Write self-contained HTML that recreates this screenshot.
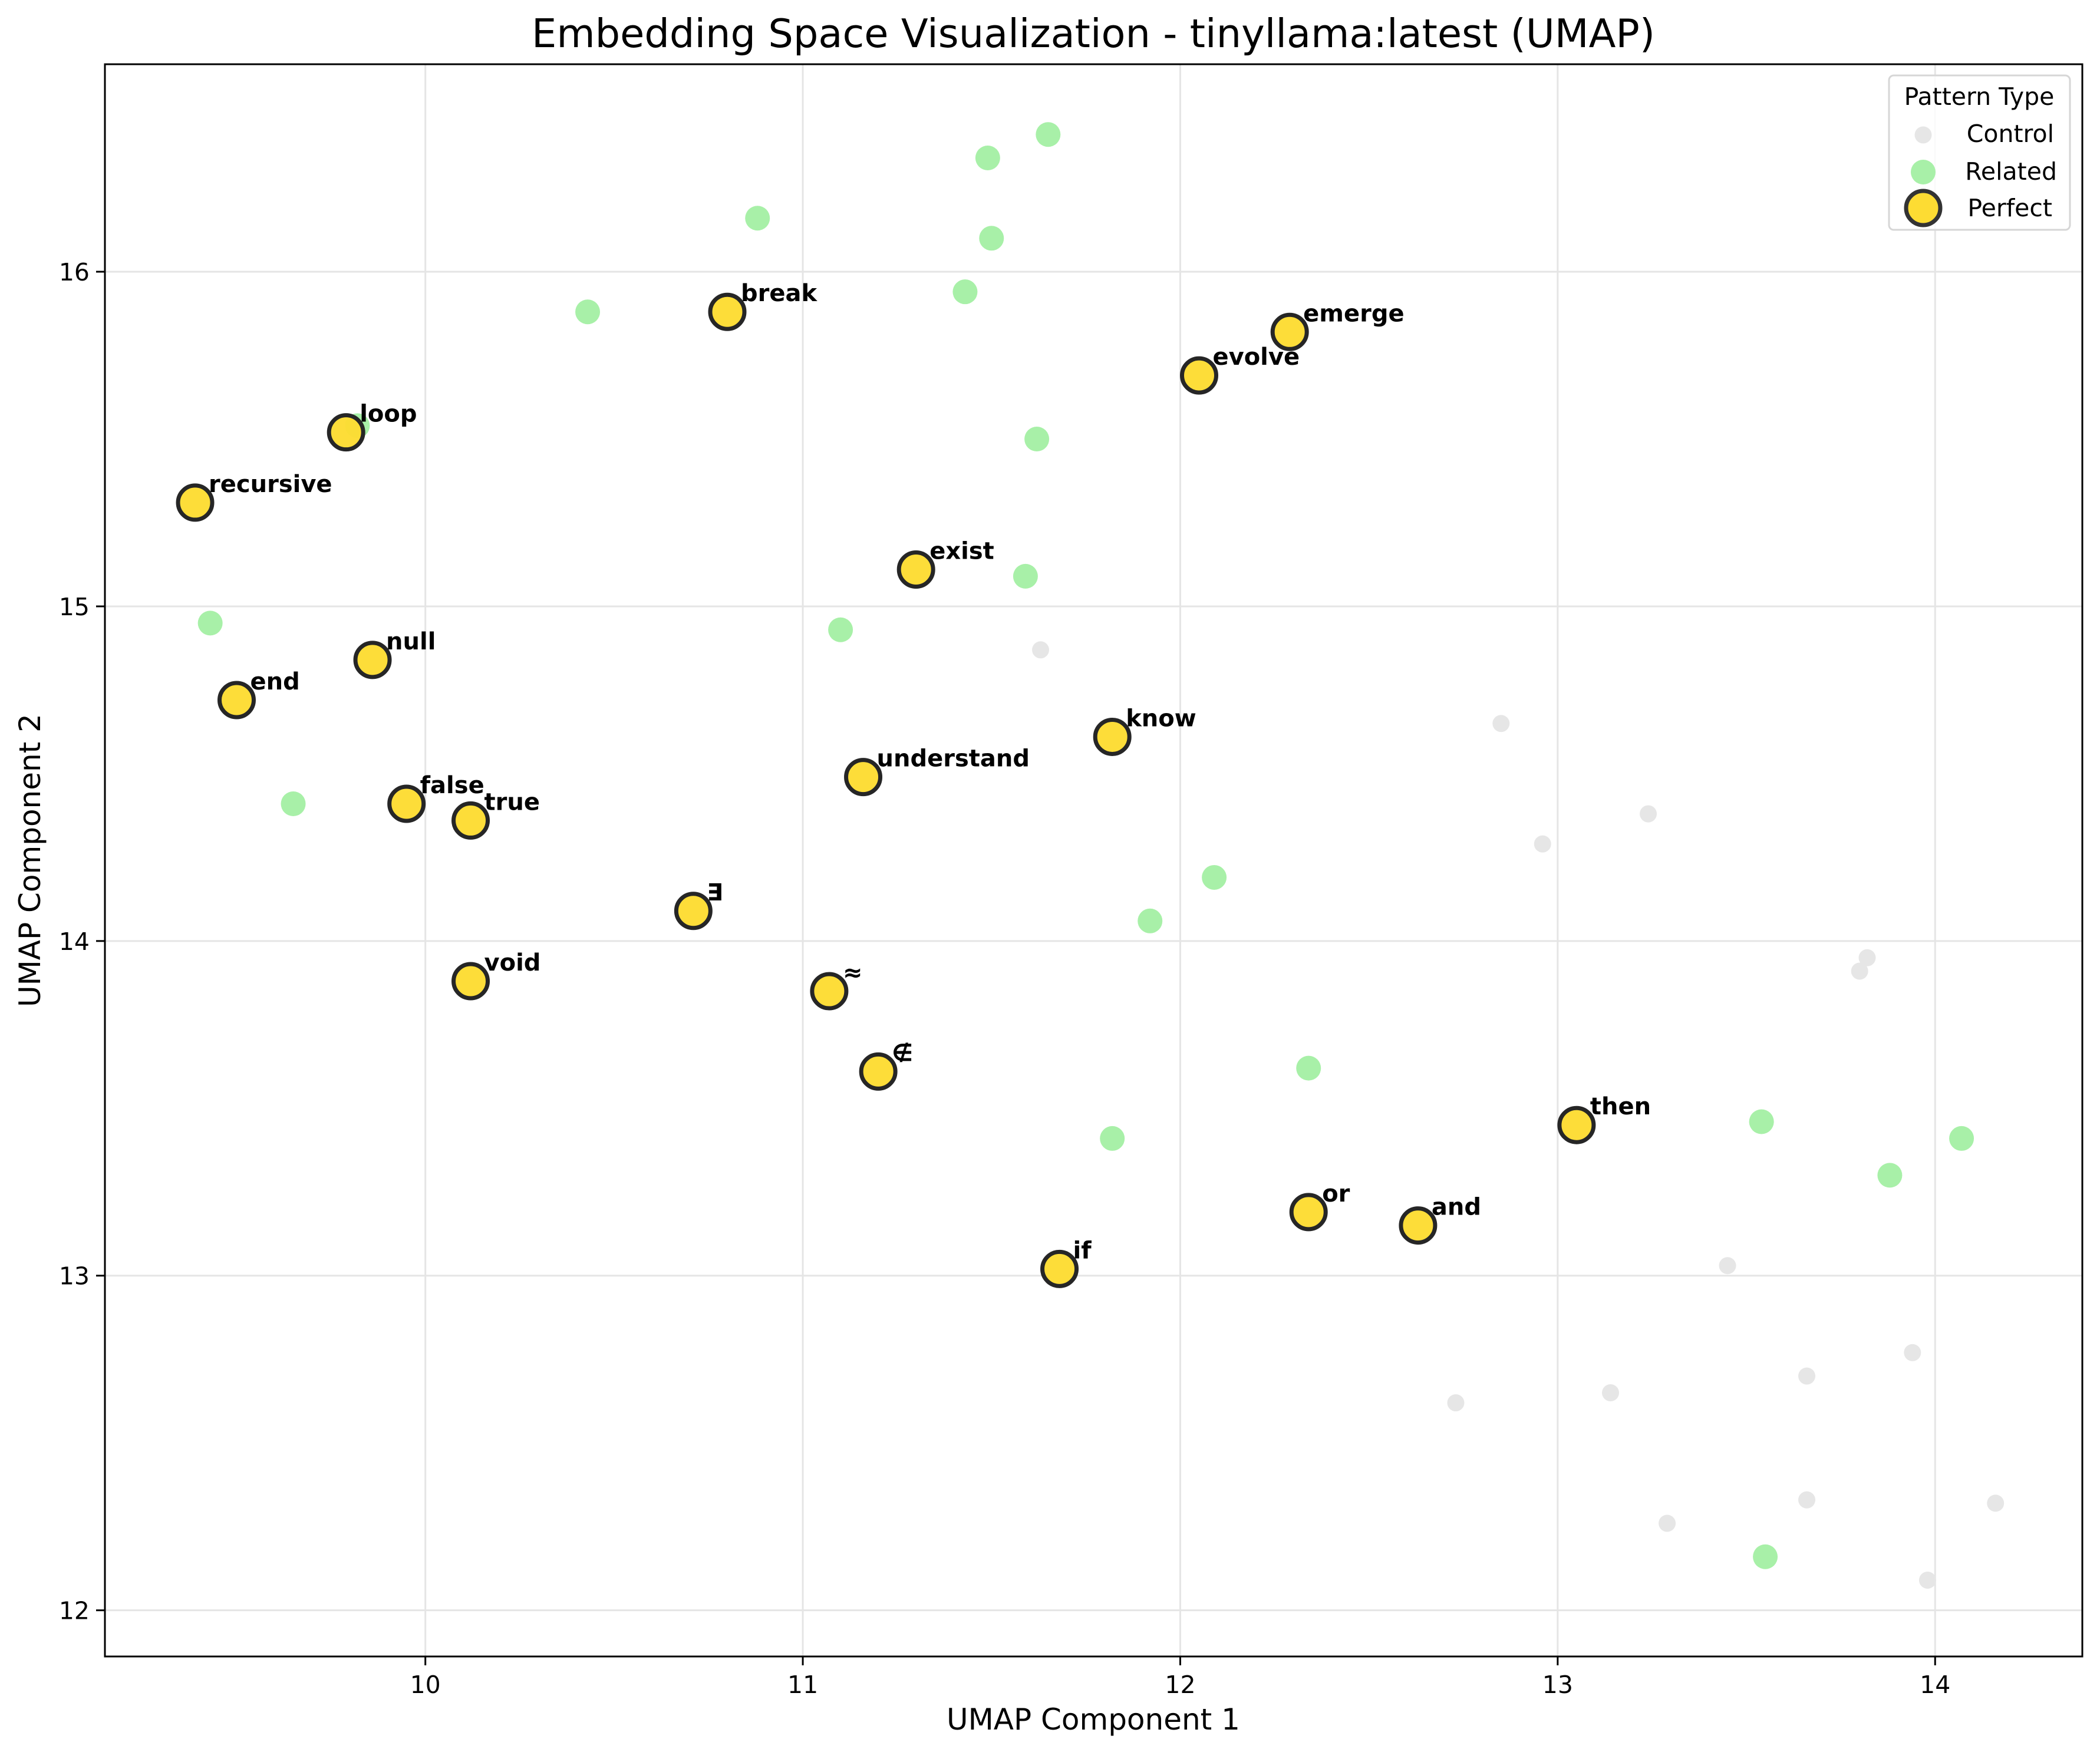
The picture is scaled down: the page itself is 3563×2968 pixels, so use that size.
<!DOCTYPE html>
<html><head><meta charset="utf-8"><style>
body{margin:0;background:#fff}
svg{display:block;font-family:"DejaVu Sans","Liberation Sans",sans-serif}
</style></head><body>
<svg id="chart" width="3563" height="2968" viewBox="0 0 3563 2968" xmlns="http://www.w3.org/2000/svg">
<rect width="3563" height="2968" fill="#fff"/>
<g id="grid"></g>
<g id="ctrl"></g>
<g id="rel"></g>
<g id="perf"></g>
<g id="lbls"></g>
<rect x="178" y="109" width="3355" height="2702" fill="none" stroke="#000" stroke-width="3"/>
<g id="ticks"></g>
<text x="1855" y="80" font-size="67" text-anchor="middle">Embedding Space Visualization - tinyllama:latest (UMAP)</text>
<text x="1855" y="2935" font-size="50" text-anchor="middle">UMAP Component 1</text>
<text transform="translate(68,1460) rotate(-90)" font-size="50" text-anchor="middle">UMAP Component 2</text>
<g>
<rect x="3205" y="128" width="307" height="262" rx="8" fill="#fff" fill-opacity="0.8" stroke="#d6d6d6" stroke-width="3"/>
<text x="3358" y="178" font-size="41" text-anchor="middle">Pattern Type</text>
<g><circle cx="3263" cy="229" r="14.5" fill="#e6e6e6"/><text x="3485" y="241" font-size="41" text-anchor="end">Control</text></g>
<g><circle cx="3263" cy="292" r="21" fill="#a8f0a8"/><text x="3490" y="305" font-size="41" text-anchor="end">Related</text></g>
<g><circle cx="3263" cy="353" r="29" fill="#fddc33" stroke="#333" stroke-width="7"/><text x="3482" y="367" font-size="41" text-anchor="end">Perfect</text></g>
</g>
</svg>
<script>
const xTicks=[10,11,12,13,14];
const yTicks=[12,13,14,15,16];
const perfectLabels=["break","emerge","evolve","loop","recursive","exist","null","end","know","understand","false","true","∃","void","≈","∉","then","or","and","if"];
const perfectX=[10.80,12.29,12.05,9.79,9.39,11.30,9.86,9.50,11.82,11.16,9.95,10.12,10.71,10.12,11.07,11.20,13.05,12.34,12.63,11.68];
const perfectY=[15.88,15.82,15.69,15.52,15.31,15.11,14.84,14.72,14.61,14.49,14.41,14.36,14.09,13.88,13.85,13.61,13.45,13.19,13.15,13.02];
const relatedX=[11.65,11.49,10.88,11.50,11.43,10.43,11.62,9.82,11.59,9.43,11.10,9.65,12.09,11.92,12.34,11.82,13.54,14.07,13.88,13.55];
const relatedY=[16.41,16.34,16.16,16.10,15.94,15.88,15.50,15.54,15.09,14.95,14.93,14.41,14.19,14.06,13.62,13.41,13.46,13.41,13.30,12.16];
const controlX=[11.63,12.85,13.24,12.96,13.82,13.80,13.45,13.94,13.66,13.14,12.73,13.66,14.16,13.29,13.98];
const controlY=[14.87,14.65,14.38,14.29,13.95,13.91,13.03,12.77,12.70,12.65,12.62,12.33,12.32,12.26,12.09];

const L=178,R=3533,T=109,B=2811;
const x0=9.151,x1=14.39,y0=11.862,y1=16.62;
const sx=v=>L+(v-x0)/(x1-x0)*(R-L);
const sy=v=>B-(v-y0)/(y1-y0)*(B-T);
const NS="http://www.w3.org/2000/svg";
function mk(tag,parent,attrs){const e=document.createElementNS(NS,tag);for(const k in attrs)e.setAttribute(k,attrs[k]);document.getElementById(parent).appendChild(e);return e;}

xTicks.forEach(t=>{
  const gl=mk('line','grid',{x1:sx(t),x2:sx(t),y1:T,y2:B,stroke:'#e5e5e5','stroke-width':3});
  
  
  const tk=mk('line','ticks',{x1:sx(t),x2:sx(t),y1:B,y2:B+15,stroke:'#000','stroke-width':3});
  
  
  const tx=mk('text','ticks',{x:sx(t),y:B+62,'font-size':41,'text-anchor':'middle'});
  tx.textContent=t;
  
  
});
yTicks.forEach(t=>{
  const gl=mk('line','grid',{x1:L,x2:R,y1:sy(t),y2:sy(t),stroke:'#e5e5e5','stroke-width':3});
  
  
  const tk=mk('line','ticks',{x1:L-15,x2:L,y1:sy(t),y2:sy(t),stroke:'#000','stroke-width':3});
  
  
  const tx=mk('text','ticks',{x:L-26,y:sy(t)+15,'font-size':41,'text-anchor':'end'});
  tx.textContent=t;
  
  
});
controlX.forEach((v,i)=>{
  const c=mk('circle','ctrl',{cx:sx(v),cy:sy(controlY[i]),r:14.5,fill:'#e6e6e6'});
  
  
});
relatedX.forEach((v,i)=>{
  const c=mk('circle','rel',{cx:sx(v),cy:sy(relatedY[i]),r:21,fill:'#a8f0a8'});
  
  
});
perfectX.forEach((v,i)=>{
  const c=mk('circle','perf',{cx:sx(v),cy:sy(perfectY[i]),r:29,fill:'#fddc33',stroke:'#262626','stroke-width':7,'fill-opacity':0.97});
  
  
  const t=mk('text','lbls',{x:sx(v)+23,y:sy(perfectY[i])-18,'font-size':40,'font-weight':'bold'});
  t.textContent=perfectLabels[i];
  
  
});
</script>
</body></html>
